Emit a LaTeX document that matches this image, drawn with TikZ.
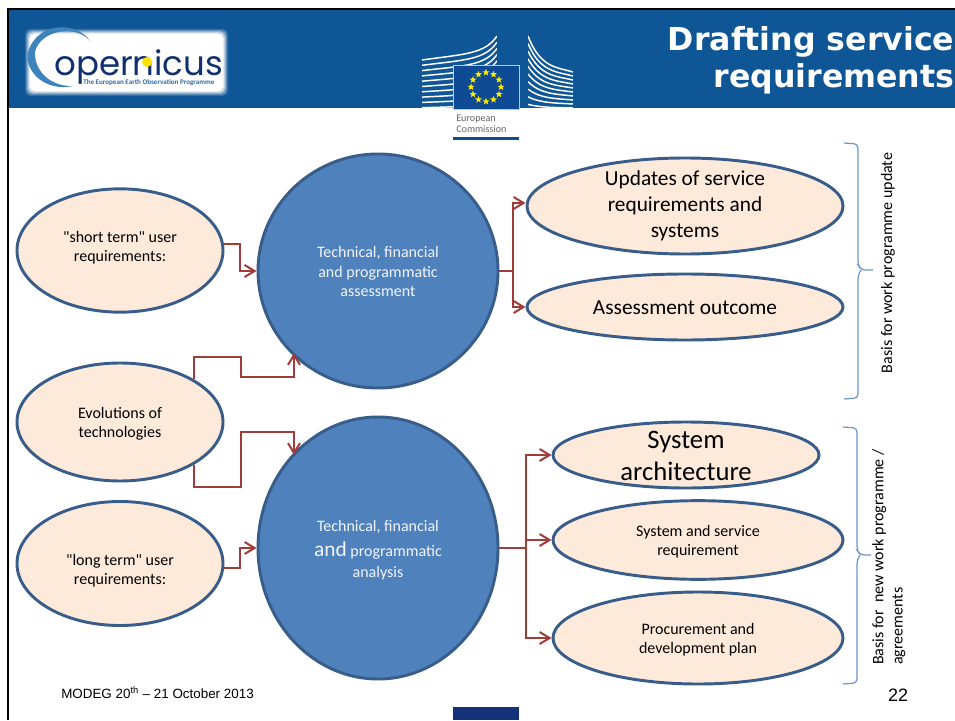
\documentclass[tikz,border=0pt]{standalone}
\usepackage{fontspec}
\setmainfont{Carlito}
\newfontfamily\plainfont{Carlito}
\newfontfamily\titlefont{DejaVu Sans}
\newfontfamily\footfont{Liberation Sans}
\newfontfamily\logofont{Poppins}
\usetikzlibrary{arrows.meta,shapes.geometric}
\definecolor{hdr}{HTML}{0F5696}
\definecolor{edge}{HTML}{385D8A}
\definecolor{peach}{HTML}{FDEADA}
\definecolor{ball}{HTML}{4F81BD}
\definecolor{conn}{HTML}{A03C3A}
\definecolor{brace}{HTML}{6C94C8}
\definecolor{flagblue}{HTML}{0F4A94}
\definecolor{botbar}{HTML}{14317A}
\definecolor{navy}{HTML}{10306E}
\definecolor{swoosh}{HTML}{3F83BC}
\newsavebox\liftbox
\newcommand\lifted[2]{\sbox\liftbox{\begin{tabular}{@{}c@{}}#2\end{tabular}}\raisebox{\dimexpr#1-0.5\ht\liftbox+0.5\dp\liftbox\relax}[0pt][0pt]{\usebox\liftbox}}
\newcommand\qq{{\plainfont\char34}}
\tikzset{
  x=0.75pt,y=-0.75pt,
  oval/.style={ellipse,draw=edge,fill=peach,line width=2.2pt,inner sep=0pt,align=center,text=black},
  ball/.style={ellipse,draw=edge,fill=ball,line width=2.2pt,inner sep=0pt,align=center,text=white!92!ball,font=\fontsize{12}{14.5}\selectfont},
  link/.style={draw=conn,line width=1.5pt},
  arrowlink/.style={link,-{Straight Barb[length=7.5pt,width=9pt,line width=1.5pt]}},
  bracel/.style={draw=brace,line width=0.9pt,rounded corners=3pt},
  small/.style={font=\fontsize{12}{14.5}\selectfont},
  big/.style={font=\fontsize{16}{19.5}\selectfont},
  stripe/.style={draw=white,line width=1.1pt},
  estar/.style={star,star points=5,star point ratio=2.4,fill=yellow!95!orange,inner sep=0pt,minimum size=5.5pt},
}
\begin{document}
\begin{tikzpicture}
\useasboundingbox (0,0) rectangle (955,720);
\fill[white] (0,0) rectangle (955,720);
% header
\fill[hdr] (8,10) rectangle (955,108.5);
\draw[black,line width=2.2pt] (8,720) -- (8,9) -- (955,9);
% copernicus logo
\foreach \g/\o in {5/0.15,4/0.2,3/0.3,2/0.4,1/0.6,0/1}{
  \fill[white,opacity=\o,rounded corners=4pt] (30-\g,34-\g) rectangle (223+\g,91+\g);
}
\fill[swoosh] (90,41) .. controls (78,22) and (38,20) .. (28,52) .. controls (24,72) and (46,92) .. (73,86)
  .. controls (52,87) and (34,72) .. (35,52) .. controls (40,30) and (76,24) .. (90,41) -- cycle;
\node[anchor=base west,inner sep=0pt,text=navy] (logotext) at (54,76) {\logofont\fontsize{25.5}{27}\selectfont opernicus};
\fill[yellow!85!orange] (147,62) circle (5);
\node[anchor=base west,inner sep=0pt,text=swoosh!70!navy] (logosub) at (83,85) {\fontsize{5.3}{6}\selectfont\bfseries The European Earth Observation Programme};
% EC logo: buildings
\foreach \i in {0,...,9}{
  \pgfmathsetmacro\yy{60+\i*5.3}
  \pgfmathsetmacro\ye{36+\i*6.2}
  \pgfmathsetmacro\ym{\yy-6+\i*0.55}
  \draw[stripe] (422,\yy) .. controls (465,\ym) and (485,\ym) .. (497,\ye);
  \pgfmathsetmacro\yr{72+\i*4}
  \pgfmathsetmacro\yl{36+\i*7.6}
  \pgfmathsetmacro\ymr{\yr-5+\i*.5}
  \draw[stripe] (528,\yl) .. controls (540,\ymr) and (555,\ymr) .. (573,\yr);
}
\fill[hdr] (497,30) rectangle (528,108.5);
\fill[flagblue] (453,65) rectangle (519,109);
\draw[white!70!flagblue,line width=0.5pt] (453,65) rectangle (519,109);
\foreach \a in {0,30,...,330}{
  \node[estar] (st\a) at ({486+15*cos(\a)},{87+14.5*sin(\a)}) {};
}
\node[anchor=west,inner sep=0pt,text=black!60,align=left,font=\fontsize{7.6}{8.25}\selectfont] (eclabel) at (456,123.5) {European\\Commission};
\fill[flagblue] (453,137) rectangle (519,140.5);
% title
\node[anchor=north east,inner sep=0pt,text=white,align=right,font=\titlefont\bfseries\fontsize{23.7}{28}\selectfont] (title) at (954.5,26) {Drafting service\\requirements};
% nodes
\node[oval,small,minimum width=154.5pt,minimum height=92.5pt] (short) at (120,250.5) {\lifted{1.9pt}{\qq short term\qq{} user\\requirements:}};
\node[oval,small,minimum width=154.5pt,minimum height=88.5pt] (evo) at (120,422) {\lifted{-1.45pt}{Evolutions of\\technologies}};
\node[oval,small,minimum width=154.5pt,minimum height=93pt] (long) at (120,563.5) {\lifted{-5.9pt}{\qq long term\qq{} user\\requirements:}};
\node[ball,minimum width=180pt,minimum height=175.5pt] (c1) at (378,271) {\lifted{-1.7pt}{Technical, financial\\and programmatic\\assessment}};
\node[ball,minimum width=180pt,minimum height=196.5pt] (c2) at (378,548) {\lifted{-2pt}{Technical, financial\\[3.5pt]{\fontsize{16}{14.5}\selectfont and} programmatic\\[1.3pt]analysis}};
\node[oval,big,minimum width=237pt,minimum height=72pt] (upd) at (685,206) {\lifted{-0.6pt}{Updates of service\\requirements and\\systems}};
\node[oval,big,minimum width=237pt,minimum height=49.5pt] (ass) at (685,307) {\lifted{-1.5pt}{Assessment outcome}};
\node[oval,minimum width=199.5pt,minimum height=49.5pt,font=\fontsize{20}{24}\selectfont] (arch) at (686,455) {\lifted{-2.6pt}{System\\architecture}};
\node[oval,small,minimum width=217.5pt,minimum height=59pt] (req) at (698,540) {\lifted{-1.45pt}{System and service\\requirement}};
\node[oval,small,minimum width=217.5pt,minimum height=69pt] (plan) at (698,638) {\lifted{-1.45pt}{Procurement and\\development plan}};
% connectors
\draw[arrowlink] (short.east |- 0,244) ++(-1,0) -- (240,244) -- (240,271) -- (c1.west);
\draw[arrowlink] (evo.north east) -- (evo.north east |- 0,357) -- (241,357) -- (241,377) -- (294,377) -- (294,353);
\draw[arrowlink] (evo.south east) -- (evo.south east |- 0,487) -- (241,487) -- (241,432) -- (294,432) -- (294,455);
\draw[arrowlink] (long.east |- 0,568) ++(-1,0) -- (240,568) -- (240,548) -- (c2.west);
\draw[link] (c1.east) -- (513,271);
\draw[arrowlink] (513,271) -- (513,203) -- (upd.west |- 0,203);
\draw[arrowlink] (513,271) -- (513,307) -- (ass.west);
\draw[link] (c2.east) -- (526,548);
\draw[arrowlink] (526,548) -- (526,455) -- (arch.west);
\draw[arrowlink] (526,540) -- (req.west);
\draw[arrowlink] (526,548) -- (526,638) -- (plan.west);
% braces
\coordinate (b1t) at (844,143); \coordinate (b1b) at (844,399); \coordinate (b1m) at (873,270);
\draw[bracel] (b1t) -- (858,144) -- (858,265) -- (861,270) -- (b1m);
\draw[bracel] (b1b) -- (858,398) -- (858,275) -- (861,270);
\coordinate (b2t) at (843,427); \coordinate (b2b) at (843,684); \coordinate (b2m) at (871,555);
\draw[bracel] (b2t) -- (857,428) -- (857,550) -- (860,555) -- (b2m);
\draw[bracel] (b2b) -- (857,683) -- (857,560) -- (860,555);
\node[rotate=90,small,inner sep=0pt] (lab1) at (888,263) {Basis for work programme update};
\node[rotate=90,small,inner sep=0pt,anchor=north west,align=left] (lab2) at (872,665) {Basis for\ \ new work programme /\\agreements};
% footer
\node[anchor=base west,inner sep=0pt] (foot) at (61,698) {\footfont\fontsize{10.05}{12}\selectfont MODEG 20\textsuperscript{th} – 21 October 2013};
\node[inner sep=0pt] (pagenum) at (898,695) {\footfont\fontsize{13.5}{15}\selectfont 22};
\fill[botbar] (453,707) rectangle (519,720);
\end{tikzpicture}
\end{document}
